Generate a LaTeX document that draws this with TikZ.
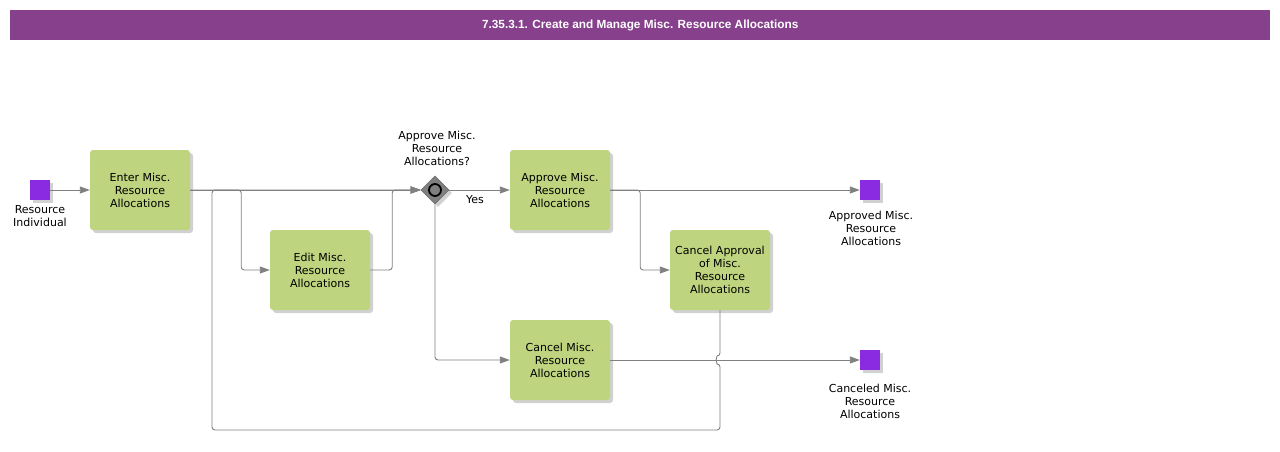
\documentclass[tikz,border=0pt]{standalone}
\usepackage{fontspec}
\setmainfont{DejaVu Sans}
\newfontfamily\titlefont{Liberation Sans}
\usetikzlibrary{shapes.geometric,shadows,arrows.meta}
\definecolor{titlebar}{RGB}{134,64,140}
\definecolor{taskgreen}{RGB}{190,212,126}
\definecolor{eventpurple}{RGB}{138,43,226}
\definecolor{linegray}{RGB}{128,128,128}
\begin{document}
\begin{tikzpicture}[x=1pt,y=-1pt,
  every node/.style={font=\fontsize{11}{13}\selectfont, text=black},
  shadowed/.style={drop shadow={shadow xshift=3pt,shadow yshift=-3pt,fill=black!40,opacity=0.45}},
  task/.style={shadowed, fill=taskgreen, rounded corners=3pt, minimum width=100pt, minimum height=80pt, align=center, inner sep=2pt},
  event/.style={shadowed, fill=eventpurple, minimum size=20pt, inner sep=0pt},
  evlabel/.style={align=center, inner sep=0pt},
  gateway/.style={shadowed, diamond, fill=linegray, draw=black!55, line width=0.6pt, minimum width=28pt, minimum height=28pt, inner sep=0pt},
  flow/.style={draw=linegray, line width=0.9pt, rounded corners=3pt, -{Triangle[length=10pt,width=7pt,fill=linegray]}}
]
\useasboundingbox (0,0) rectangle (1280,452);
\fill[white] (0,0) rectangle (1280,452);
% title
\node[fill=titlebar, minimum width=1260pt, minimum height=30pt, inner sep=0pt, anchor=north west,
  font=\titlefont\bfseries\fontsize{11.8}{14}\selectfont, text=white] (title) at (10,10)
  {7.35.3.1. Create and Manage Misc. Resource Allocations};

% nodes
\node[event] (start) at (40,190) {};
\node[evlabel] (startlbl) at (40,216.5) {Resource\\Individual};
\node[task] (enter) at (140,190) {Enter Misc.\\Resource\\Allocations};
\node[task] (edit) at (320,270) {Edit Misc.\\Resource\\Allocations};
\node[gateway] (gw) at (435,190) {};
\node[circle, draw=black, line width=1.8pt, fill=linegray, minimum size=12pt, inner sep=0pt] (gwc) at (gw.center) {};
\node[evlabel] (gwlbl) at (437,148) {Approve Misc.\\Resource\\Allocations?};
\node[task] (approve) at (560,190) {Approve Misc.\\Resource\\Allocations};
\node[task] (cancelapp) at (720,270) {Cancel Approval\\of Misc.\\Resource\\Allocations};
\node[task] (cancel) at (560,360) {Cancel Misc.\\Resource\\Allocations};
\node[event] (endok) at (870,190) {};
\node[evlabel] (endoklbl) at (871,228) {Approved Misc.\\Resource\\Allocations};
\node[event] (endcan) at (870,360) {};
\node[evlabel] (endcanlbl) at (870,401) {Canceled Misc.\\Resource\\Allocations};
\node[inner sep=0pt] (yes) at (475,200) {Yes};

% helper coordinates
\coordinate (hoptop) at (720,356);
\coordinate (loopbot) at (720,430);
\coordinate (loopleft) at (212,430);

% connectors
\draw[flow] (start) -- (enter);
\draw[flow] (enter.east) -- (gw.west);
\draw[flow] (enter.east) -- ([xshift=51pt]enter.east) |- (edit.west);
\draw[flow] (edit.east) -- ([xshift=22pt]edit.east) |- (gw.west);
\draw[flow] (gw.east) -- (approve.west);
\draw[flow] (gw.south) |- (cancel.west);
\draw[flow] (approve.east) -- (endok.west);
\draw[flow] (approve.east) -- ([xshift=30pt]approve.east) |- (cancelapp.west);
\draw[flow] (cancel.east) -- (endcan.west);
\draw[flow] (cancelapp.south) -- (hoptop) arc[start angle=90,end angle=270,radius=4pt] -- (loopbot) -- (loopleft) |- (gw.west);
\end{tikzpicture}
\end{document}
